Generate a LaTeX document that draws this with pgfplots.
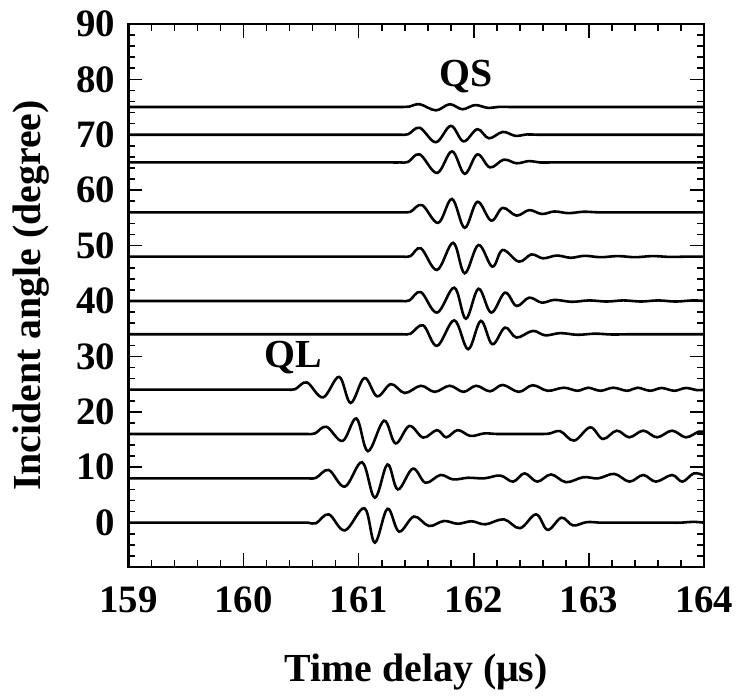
\documentclass[border=0pt]{standalone}
\usepackage{fontspec}
\setmainfont{Liberation Serif}
\usepackage{pgfplots}
\pgfplotsset{compat=1.18}
\usepackage{pgfplotstable}

% angle 75
\pgfplotstableread{
x a
159 0
161.16 0
161.26 0
161.36 0
161.44 0.08
161.53 0.5
161.67 -0.6
161.79 0.5
161.90 -0.4
162.01 0.35
162.12 -0.15
162.22 0.03
162.32 0
162.42 0
162.52 0
164 0
}\tSeventyFive
% angle 70
\pgfplotstableread{
x a
159 0
161.16 0
161.26 0
161.36 0
161.43 0.1
161.53 1.25
161.67 -1.35
161.80 1.6
161.91 -1.2
162.03 1.0
162.13 -0.65
162.25 0.5
162.36 -0.2
162.46 0.05
162.55 0
162.65 0
162.75 0
164 0
}\tSeventy
% angle 65
\pgfplotstableread{
x a
159 0
161.16 0
161.26 0
161.36 0
161.43 0.1
161.53 1.45
161.68 -1.9
161.81 2.0
161.92 -2.05
162.03 1.45
162.14 -0.9
162.26 0.5
162.37 -0.15
162.48 0.25
162.57 0
162.67 0
162.77 0
164 0
}\tSixtyFive
% angle 56
\pgfplotstableread{
x a
159 0
161.18 0
161.28 0
161.38 0
161.45 0.1
161.55 1.3
161.69 -1.9
161.81 2.4
161.92 -2.8
162.03 1.9
162.15 -1.5
162.25 0.8
162.37 -0.6
162.48 0.4
162.59 -0.3
162.70 0.15
162.82 -0.15
162.95 0.1
163.07 0
163.17 0
163.27 0
164 0
}\tFiftySix
% angle 48
\pgfplotstableread{
x a
159 0
161.18 0
161.28 0
161.38 0
161.45 0.1
161.54 1.5
161.68 -2.4
161.82 2.5
161.92 -3.0
162.04 2.1
162.16 -1.8
162.25 1.2
162.39 -0.9
162.50 0.4
162.60 -0.3
162.72 0.2
162.84 -0.2
162.96 0.15
163.10 -0.1
163.25 0.1
163.40 -0.1
163.55 0.1
163.70 -0.05
163.85 0
164 0
}\tFortyEight
% angle 40
\pgfplotstableread{
x a
159 0
161.17 0
161.27 0
161.37 0
161.44 0.1
161.54 1.6
161.68 -2.1
161.83 2.4
161.93 -3.2
162.04 2.2
162.15 -2.1
162.27 1.5
162.37 -0.9
162.48 0.6
162.59 -0.3
162.70 0.2
162.85 -0.15
163.00 0.1
163.15 -0.1
163.30 0.1
163.45 -0.1
163.60 0.1
163.75 -0.1
163.90 0.1
164 0
}\tForty
% angle 34
\pgfplotstableread{
x a
159 0
161.18 0
161.28 0
161.38 0
161.45 0.1
161.56 1.6
161.68 -2.1
161.83 2.5
161.95 -2.7
162.06 2.4
162.16 -1.8
162.27 1.2
162.37 -0.6
162.51 0.6
162.62 -0.2
162.75 0.2
162.90 -0.1
163.05 0.1
163.20 -0.05
163.35 0
163.50 0
163.65 0
164 0
}\tThirtyFour
% angle 24
\pgfplotstableread{
x a
159 0
160.18 0
160.28 0
160.38 0
160.45 0.1
160.55 1.3
160.69 -1.4
160.83 2.3
160.93 -2.4
161.05 2.1
161.16 -1.2
161.28 1.0
161.40 -0.6
161.54 0.7
161.66 -0.4
161.79 0.7
161.91 -0.4
162.02 0.7
162.14 -0.3
162.25 0.85
162.39 -0.4
162.51 0.8
162.64 -0.2
162.78 0.35
162.90 -0.2
162.99 0.35
163.10 -0.2
163.21 0.35
163.33 -0.2
163.42 0.35
163.53 -0.2
163.63 0.3
163.74 -0.2
163.84 0.3
163.94 -0.1
164 0
}\tTwentyFour
% angle 16
\pgfplotstableread{
x a
159 0
160.35 0
160.45 0
160.55 0
160.62 0.1
160.72 1.3
160.86 -1.25
160.98 2.8
161.08 -3.1
161.22 2.4
161.32 -1.7
161.44 1.45
161.56 -0.65
161.68 0.7
161.76 -0.6
161.86 0.7
161.97 -0.35
162.09 0.1
162.20 0
162.32 0
162.44 0
162.55 0
162.65 0.05
162.75 0.5
162.87 -1.2
163.01 1.2
163.12 -0.9
163.24 0.6
163.35 -0.6
163.47 0.6
163.59 -0.6
163.72 0.6
163.84 -0.6
163.95 0.4
164 0.3
}\tSixteen
% angle 8
\pgfplotstableread{
x a
159 0
160.35 0
160.45 0
160.55 0
160.63 0.1
160.74 1.5
160.88 -1.5
161.03 2.9
161.14 -3.5
161.25 2.5
161.34 -2.0
161.47 1.75
161.58 -0.8
161.71 0.6
161.82 -0.2
161.95 0.1
162.09 0
162.23 0.5
162.34 -0.6
162.44 0.9
162.55 -0.6
162.67 0.7
162.80 -0.7
162.95 0.2
163.08 0
163.22 0.8
163.35 -0.6
163.47 0.6
163.58 -0.6
163.72 0.6
163.81 -0.6
163.91 0.9
164 0.5
}\tEight
% angle 0
\pgfplotstableread{
x a
159 0
160.36 0
160.46 0
160.56 0
160.63 -0.1
160.74 1.5
160.88 -1.4
161.05 2.6
161.14 -3.6
161.25 2.5
161.35 -1.6
161.48 1.1
161.61 -0.6
161.74 0.3
161.86 -0.2
161.98 0.25
162.10 -0.3
162.26 0.6
162.40 -1.0
162.54 1.5
162.64 -1.3
162.76 0.9
162.86 -0.5
162.98 0.1
163.10 0
163.22 0
163.34 0
163.46 0
163.58 0
163.70 0
163.80 0
163.90 0.15
164 0
}\tZero

\begin{document}
\begin{tikzpicture}
\begin{axis}[
  scale only axis,
  width=289.5pt, height=273pt,
  xmin=159, xmax=164, ymin=-8, ymax=90,
  xtick={159,160,...,164},
  ytick={-10,0,10,...,90},
  minor x tick num=4, minor y tick num=4,
  tick align=inside,
  major tick length=7pt, minor tick length=3.5pt,
  every tick/.style={black, line width=0.8pt},
  axis line style={line width=1.2pt},
  scaled x ticks=false,
  /pgf/number format/assume math mode=true,
  /pgf/number format/1000 sep={},
  tick label style={font=\fontsize{19.5}{23}\selectfont\bfseries},
  xticklabel style={yshift=-6.5pt},
  yticklabel style={xshift=-3pt},
  xlabel={Time delay (μs)},
  ylabel={Incident angle (degree)},
  label style={font=\fontsize{20}{24}\selectfont\bfseries},
  xlabel style={at={(axis description cs:0.5,0)}, anchor=center, yshift=-53pt},
  ylabel style={at={([xshift=-49pt]axis description cs:0,0.5)}, anchor=center},
  trace/.style={black, line width=1.3pt, smooth, tension=0.6, no marks},
]
\addplot[trace] table[x=x, y expr=\thisrow{a}+75] {\tSeventyFive};
\addplot[trace] table[x=x, y expr=\thisrow{a}+70] {\tSeventy};
\addplot[trace] table[x=x, y expr=\thisrow{a}+65] {\tSixtyFive};
\addplot[trace] table[x=x, y expr=\thisrow{a}+56] {\tFiftySix};
\addplot[trace] table[x=x, y expr=\thisrow{a}+48] {\tFortyEight};
\addplot[trace] table[x=x, y expr=\thisrow{a}+40] {\tForty};
\addplot[trace] table[x=x, y expr=\thisrow{a}+34] {\tThirtyFour};
\addplot[trace] table[x=x, y expr=\thisrow{a}+24] {\tTwentyFour};
\addplot[trace] table[x=x, y expr=\thisrow{a}+16] {\tSixteen};
\addplot[trace] table[x=x, y expr=\thisrow{a}+8] {\tEight};
\addplot[trace] table[x=x, y expr=\thisrow{a}+0] {\tZero};
\node[font=\fontsize{20}{24}\selectfont\bfseries] at (axis cs:161.93,80.5) {QS};
\node[font=\fontsize{20}{24}\selectfont\bfseries] at (axis cs:160.43,29.8) {QL};
\end{axis}
\path (current axis.south west) ++(-64.5pt,-64pt) rectangle ++(370pt,349pt);
\end{tikzpicture}
\end{document}
